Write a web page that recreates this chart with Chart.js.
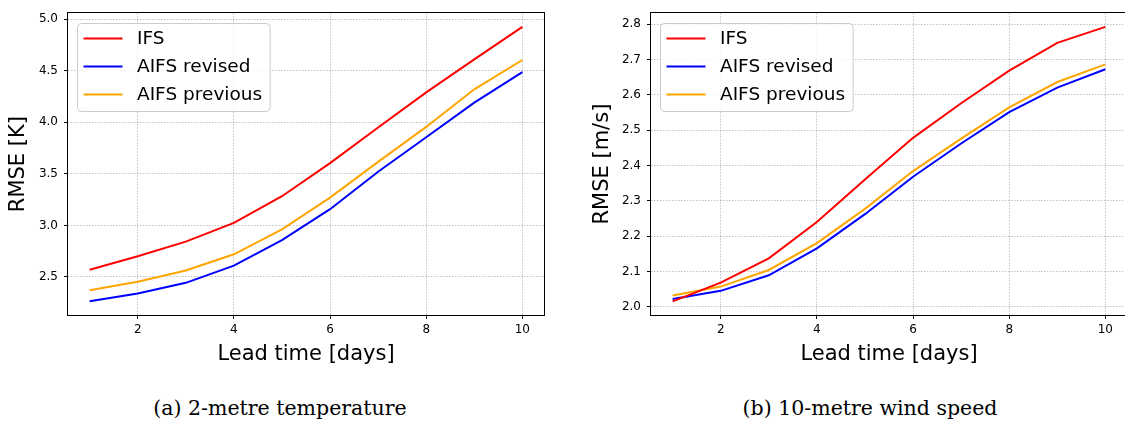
<!DOCTYPE html>
<html>
<head>
<meta charset="utf-8">
<script src="https://cdn.jsdelivr.net/npm/chart.js@4.4.0/dist/chart.umd.min.js"></script>
<style>
html, body { margin: 0; padding: 0; background: #fff; width: 1125px; height: 424px; overflow: hidden; position: relative; }
.panel { position: absolute; top: 0; width: 560px; height: 372px; }
#leftPanel { left: 0; }
#rightPanel { left: 575px; }
.cap { position: absolute; top: 396px; width: 560px; text-align: center; font-family: "DejaVu Serif", serif; font-size: 20.5px; line-height: 24px; color: #000; }
</style>
</head>
<body>
<div class="panel" id="leftPanel"><canvas id="t2mChart"></canvas></div>
<div class="panel" id="rightPanel"><canvas id="ws10Chart"></canvas></div>
<div class="cap" style="left:0">(a) 2-metre temperature</div>
<div class="cap" style="left:590px">(b) 10-metre wind speed</div>
<script>
// lead times and series
var days = [1, 2, 3, 4, 5, 6, 7, 8, 9, 10];
var seriesNames = ["IFS", "AIFS revised", "AIFS previous"];
var seriesColors = ["#ff0000", "#0000ff", "#ffa500"];

// (a) 2m temperature RMSE [K]
var t2mIFS = [2.57, 2.70, 2.843, 3.025, 3.283, 3.604, 3.95, 4.29, 4.61, 4.925];
var t2mRevised = [2.264, 2.34, 2.443, 2.61, 2.858, 3.157, 3.52, 3.855, 4.19, 4.487];
var t2mPrevious = [2.372, 2.453, 2.563, 2.72, 2.962, 3.27, 3.616, 3.955, 4.32, 4.604];

// (b) 10m wind speed RMSE [m/s]
var wsIFS = [2.015, 2.068, 2.137, 2.24, 2.36, 2.478, 2.576, 2.668, 2.747, 2.792];
var wsRevised = [2.022, 2.045, 2.089, 2.165, 2.262, 2.368, 2.462, 2.551, 2.62, 2.672];
var wsPrevious = [2.032, 2.057, 2.104, 2.18, 2.277, 2.384, 2.476, 2.564, 2.636, 2.686];

var dayTicks = [2, 4, 6, 8, 10];
var t2mTicks = [2.5, 3.0, 3.5, 4.0, 4.5, 5.0];
var wsTicks = [2.0, 2.1, 2.2, 2.3, 2.4, 2.5, 2.6, 2.7, 2.8];
var dayRange = [0.55, 10.45];
var t2mRange = [2.131, 5.058];
var wsRange = [1.9766, 2.8308];

Chart.defaults.font.family = '"DejaVu Sans", sans-serif';
Chart.defaults.color = "#000";

// box around the axes + matplotlib style legend
const boxAndLegend = {
  id: "boxAndLegend",
  afterDraw(chart) {
    const ctx = chart.ctx;
    const a = chart.chartArea;
    ctx.save();
    ctx.strokeStyle = "#000";
    ctx.lineWidth = 1;
    ctx.strokeRect(Math.round(a.left) - 0.5, Math.round(a.top) - 0.5, Math.round(a.right - a.left) + 1, Math.round(a.bottom - a.top) + 1);

    ctx.font = '18.5px "DejaVu Sans"';
    let textW = 0;
    chart.data.datasets.forEach((d) => {
      textW = Math.max(textW, ctx.measureText(d.label).width);
    });
    const x0 = Math.round(a.left) + 9.5;
    const y0 = Math.round(a.top) + 10.5;
    const w = 6 + 39 + 14.5 + textW + 8;
    const h = 88;
    ctx.beginPath();
    ctx.roundRect(x0, y0, w, h, 4);
    ctx.fillStyle = "rgba(255,255,255,0.8)";
    ctx.fill();
    ctx.strokeStyle = "#cccccc";
    ctx.lineWidth = 1;
    ctx.stroke();
    chart.data.datasets.forEach((d, i) => {
      const cy = y0 + 15 + i * 28;
      ctx.strokeStyle = d.borderColor;
      ctx.lineWidth = 2;
      ctx.beginPath();
      ctx.moveTo(x0 + 6, cy);
      ctx.lineTo(x0 + 45, cy);
      ctx.stroke();
      ctx.fillStyle = "#000";
      ctx.textBaseline = "middle";
      ctx.fillText(d.label, x0 + 59.5, cy + 1);
    });
    ctx.restore();
  },
};

function makeChart(id, values, yRange, yTicks, yTitle, yWidth, yTitlePad, padRight) {
  const datasets = values.map((vals, i) => ({
    label: seriesNames[i],
    data: days.map((d, j) => ({ x: d, y: vals[j] })),
    borderColor: seriesColors[i],
    backgroundColor: seriesColors[i],
    borderWidth: 2,
    pointRadius: 0,
    tension: 0,
    fill: false,
  }));
  return new Chart(document.getElementById(id).getContext("2d"), {
    type: "line",
    data: { datasets: datasets },
    plugins: [boxAndLegend],
    options: {
      responsive: true,
      maintainAspectRatio: false,
      animation: false,
      layout: { padding: { left: 0, top: 5, right: padRight, bottom: 0 } },
      plugins: { legend: { display: false }, tooltip: { enabled: false } },
      scales: {
        x: {
          type: "linear",
          min: dayRange[0],
          max: dayRange[1],
          afterBuildTicks: (s) => { s.ticks = dayTicks.map((v) => ({ value: v })); },
          afterFit: (s) => { s.height = 57; },
          ticks: { font: { size: 12 }, padding: 4, color: "#000", maxRotation: 0, callback: (v) => String(v) },
          grid: { color: "rgba(0,0,0,0.24)", lineWidth: 1, tickLength: 4, tickColor: "#000", tickWidth: 1 },
          border: { display: false, dash: [1.5, 1.5] },
          title: { display: true, text: "Lead time [days]", font: { size: 21 }, color: "#000", padding: { top: 0, bottom: 5 } },
        },
        y: {
          type: "linear",
          min: yRange[0],
          max: yRange[1],
          afterBuildTicks: (s) => { s.ticks = yTicks.map((v) => ({ value: v })); },
          afterFit: (s) => { s.width = yWidth; },
          ticks: { font: { size: 12 }, padding: 6, color: "#000", callback: (v) => v.toFixed(1) },
          grid: { color: "rgba(0,0,0,0.24)", lineWidth: 1, tickLength: 4, tickColor: "#000", tickWidth: 1 },
          border: { display: false, dash: [1.5, 1.5] },
          title: { display: true, text: yTitle, font: { size: 21 }, color: "#000", padding: { top: yTitlePad, bottom: 0 } },
        },
      },
    },
  });
}

makeChart("t2mChart", [t2mIFS, t2mRevised, t2mPrevious], t2mRange, t2mTicks, "RMSE [K]", 68, 6.4, 16);
makeChart("ws10Chart", [wsIFS, wsRevised, wsPrevious], wsRange, wsTicks, "RMSE [m/s]", 76, 15.4, 8);
</script>
</body>
</html>
